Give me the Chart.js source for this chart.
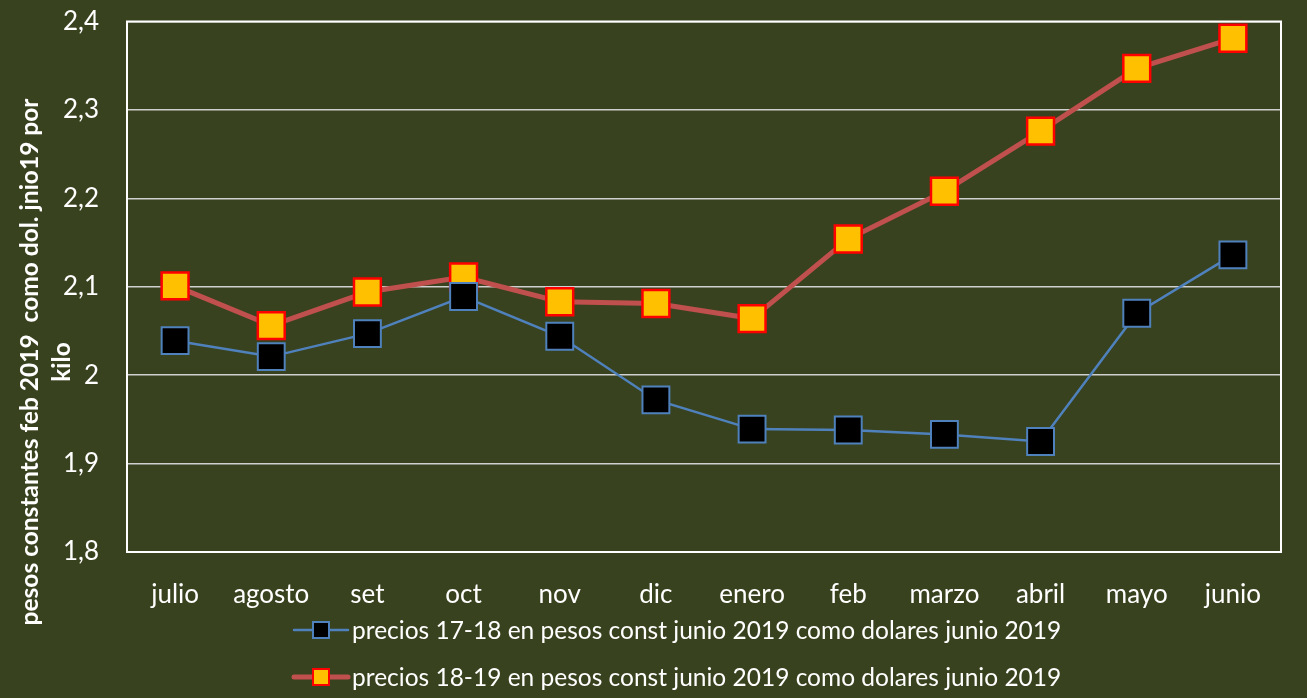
<!DOCTYPE html>
<html><head><meta charset="utf-8">
<script src="https://cdn.jsdelivr.net/npm/chart.js@4.4.1/dist/chart.umd.min.js"></script>
<style>html,body{margin:0;padding:0;background:#39421F;}#wrap{width:1307px;height:698px;}</style>
</head><body><div id="wrap"><canvas id="c" width="1307" height="698"></canvas></div>
<script>
const categories = ['julio','agosto','set','oct','nov','dic','enero','feb','marzo','abril','mayo','junio'];
const precios1718 = [2.039,2.021,2.047,2.089,2.044,1.972,1.939,1.938,1.933,1.925,2.070,2.136];
const precios1819 = [2.101,2.056,2.094,2.111,2.083,2.081,2.064,2.154,2.208,2.276,2.347,2.381];
const seriesNames = ['precios 17-18 en pesos const junio 2019 como dolares junio 2019','precios 18-19 en pesos const junio 2019 como dolares junio 2019'];
const yTitle = ['pesos constantes feb 2019  como dol. jnio19 por','kilo'];
const FONT = 'Lato, "Open Sans", sans-serif';

const extras = {
  id:'extras',
  beforeDraw(chart){
    const ctx=chart.ctx; ctx.save(); ctx.fillStyle='#39421F'; ctx.fillRect(0,0,chart.width,chart.height); ctx.restore();
  },
  afterDraw(chart){
    const ctx=chart.ctx, a=chart.chartArea;
    ctx.save();
    ctx.strokeStyle='#FFFFFF'; ctx.lineWidth=2;
    ctx.strokeRect(a.left,a.top,a.right-a.left,a.bottom-a.top);
    // y title
    ctx.fillStyle='#FFFFFF'; ctx.font='bold 24.5px '+FONT; ctx.textAlign='center'; ctx.textBaseline='middle';
    const xs=[30,62];
    yTitle.forEach((t,i)=>{ctx.save(); ctx.translate(xs[i],362); ctx.rotate(-Math.PI/2); ctx.fillText(t,0,0); ctx.restore();});
    // legend
    ctx.font='24.5px '+FONT; ctx.textAlign='left'; ctx.textBaseline='middle';
    const rows=[630,677];
    chart.data.datasets.forEach((ds,i)=>{
      const y=rows[i], x0=294, x1=348, xm=(x0+x1)/2;
      ctx.strokeStyle=ds.borderColor; ctx.lineWidth=ds.borderWidth; ctx.lineCap='round';
      ctx.beginPath(); ctx.moveTo(x0,y); ctx.lineTo(x1,y); ctx.stroke();
      const s=16;
      ctx.fillStyle=ds.pointBackgroundColor; ctx.fillRect(xm-s/2,y-s/2,s,s);
      ctx.strokeStyle=ds.pointBorderColor; ctx.lineWidth=2; ctx.strokeRect(xm-s/2,y-s/2,s,s);
      ctx.fillStyle='#FFFFFF'; ctx.fillText(ds.label,352,y+1);
    });
    ctx.restore();
  }
};

new Chart(document.getElementById('c'),{
  type:'line',
  data:{labels:categories,datasets:[
    {label:seriesNames[0],data:precios1718,borderColor:'#4F81BD',borderWidth:2.5,pointStyle:'rect',pointRadius:19,pointHoverRadius:19,pointBackgroundColor:'#000000',pointBorderColor:'#4F81BD',pointBorderWidth:2,tension:0},
    {label:seriesNames[1],data:precios1819,borderColor:'#C0504D',borderWidth:5,pointStyle:'rect',pointRadius:19,pointHoverRadius:19,pointBackgroundColor:'#FFC000',pointBorderColor:'#FF0000',pointBorderWidth:2.5,tension:0}
  ]},
  options:{
    responsive:false,animation:false,
    layout:{padding:{top:18,right:26,left:0,bottom:0}},
    plugins:{legend:{display:false},tooltip:{enabled:false}},
    scales:{
      x:{offset:true,grid:{display:false},border:{display:false},
         ticks:{color:'#FFFFFF',font:{family:FONT,size:26},padding:19,maxRotation:0},
         afterFit(s){s.height=146;s.paddingLeft=0;s.paddingRight=0;}},
      y:{min:1.8,max:2.4,border:{display:false},
         grid:{color:'#D0D0D0',lineWidth:1.5,drawTicks:false},
         ticks:{stepSize:0.1,color:'#FFFFFF',font:{family:FONT,size:26},padding:28,
           callback:(v)=>{const r=Math.round(v*10)/10; return r===2?'2':r.toFixed(1).replace('.',',');}},
         afterFit(s){s.width=127;s.paddingTop=0;s.paddingBottom=0;}}
    }
  },
  plugins:[extras]
});
</script></body></html>
